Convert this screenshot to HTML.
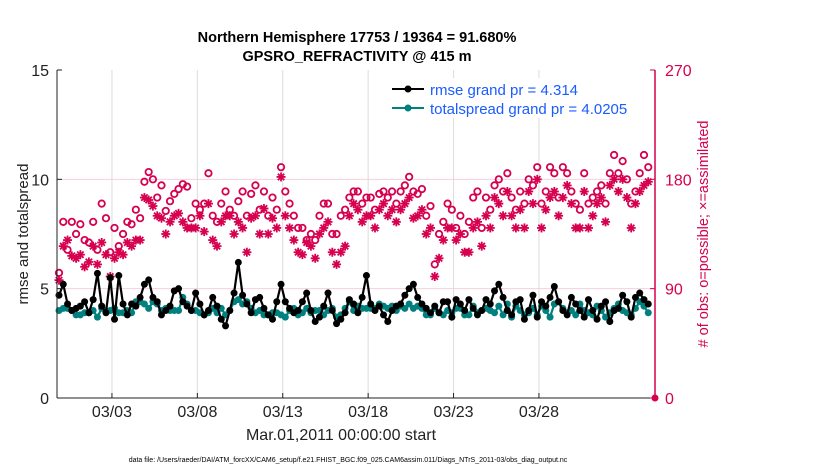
<!DOCTYPE html>
<html><head><meta charset="utf-8"><style>
body{margin:0;background:#fff;font-family:"Liberation Sans",sans-serif}
svg text{font-family:"Liberation Sans",sans-serif}
</style></head><body>
<svg id="c" width="830" height="470" xmlns="http://www.w3.org/2000/svg"></svg>
<script>
const rmse=[4.7,5.2,4.3,4.0,4.1,4.2,4.4,3.9,4.5,5.7, 4.2,3.9,5.5,3.6,5.6,4.3,3.8,4.3,4.2,4.6, 5.2,5.4,4.6,4.4,3.8,4.0,4.2,4.9,5.0,4.4, 4.2,4.0,4.8,4.3,3.8,4.0,4.6,4.2,3.6,3.3, 4.0,4.8,6.2,4.7,4.3,3.9,4.5,4.6,4.1,3.8, 3.6,4.4,5.2,4.4,4.1,3.9,4.0,4.4,4.8,4.0, 3.5,3.7,4.2,4.8,4.0,3.4,3.6,3.9,4.5,4.3, 3.9,4.6,5.6,4.3,4.0,4.2,3.8,3.5,4.0,4.2, 4.3,4.7,5.0,5.2,4.6,4.3,4.1,3.9,4.2,3.9, 4.4,4.4,3.7,4.5,4.3,4.0,4.5,4.1,3.8,4.0, 4.5,4.3,4.9,5.2,4.6,4.0,3.8,4.4,4.5,3.6, 4.0,4.7,3.7,4.4,4.2,4.6,5.1,4.4,4.0,3.8, 4.6,4.3,4.0,3.7,4.5,4.0,3.6,4.2,4.4,3.5, 4.0,4.1,4.7,4.4,3.7,4.6,4.8,4.5,4.3];
const spread=[4.0,4.1,4.1,4.0,3.8,3.8,3.9,3.9,4.0,3.7, 4.1,4.0,4.0,4.1,3.9,3.9,4.0,3.9,4.4,4.4, 4.3,4.1,4.4,4.3,4.0,4.1,4.0,4.0,4.0,4.6, 4.3,4.0,4.0,3.9,3.8,3.9,4.1,3.9,4.1,3.8, 4.0,4.4,4.5,4.3,4.4,4.1,3.9,4.0,3.8,3.8, 3.9,3.9,3.8,3.7,4.0,4.1,3.8,3.9,4.1,3.9, 4.0,4.0,3.8,4.0,4.1,3.7,3.8,4.1,4.4,4.0, 4.2,4.1,4.1,4.1,4.1,4.3,4.2,4.1,4.2,4.0, 4.2,4.1,4.3,4.1,4.2,4.1,3.8,3.8,4.1,3.9, 3.8,4.0,3.9,4.1,4.1,3.8,3.8,4.2,3.9,4.0, 4.1,4.0,3.9,4.2,3.8,4.3,3.7,4.2,4.0,3.8, 3.9,4.1,3.8,4.2,4.0,3.7,4.3,4.4,4.1,3.9, 4.0,3.8,4.3,4.0,3.9,3.8,4.2,4.0,3.7,3.9, 4.1,4.3,4.0,3.9,3.8,4.1,4.4,4.2,3.9];
const nposs=[103,145,122,145,135,143,130,128,145,122, 160,148,120,140,125,135,145,143,155,148, 178,186,180,165,175,154,162,168,172,176, 174,148,160,155,160,185,150,145,160,170, 155,150,162,170,150,168,175,155,170,150, 165,155,190,170,160,150,140,140,130,135, 130,150,160,160,135,135,150,155,165,170, 170,160,165,165,155,168,170,165,170,160, 170,175,182,170,168,172,150,158,110,135, 145,160,155,140,150,135,145,165,170,140, 165,155,175,180,170,185,165,155,170,160, 180,175,190,160,170,190,185,165,190,185, 170,160,155,185,160,165,170,175,160,185, 200,185,195,180,160,170,185,200,190];
const nassim=[97,125,130,117,115,118,108,112,125,110, 128,118,100,115,120,118,128,125,130,130, 165,163,158,150,148,135,145,150,152,145, 140,140,140,150,137,160,130,125,145,150, 150,135,145,140,120,148,150,135,156,135, 148,140,182,150,140,130,120,118,128,125, 115,135,140,145,120,110,120,125,150,160, 155,145,150,150,140,155,160,150,155,145, 155,160,165,148,150,155,135,140,100,115, 130,140,140,130,135,120,120,140,145,125, 150,140,165,160,150,170,150,140,155,140, 170,160,180,140,155,165,170,150,165,175, 160,140,140,170,140,150,160,165,145,175, 180,170,180,165,140,160,170,175,178];
const tickLabels=["03/03","03/08","03/13","03/18","03/23","03/28"];
const tickIdx=[12.4,32.4,52.4,72.4,92.4,112.4];
const leftTicks=[0,5,10,15];
const rightTicks=[0,90,180,270];

const NS="http://www.w3.org/2000/svg",svg=document.getElementById('c');
const L=57,R=655,T=70,B=398,PINK="#d6004f",TEAL="#00807f";
const X=i=>59+i*4.27, Y=v=>B-v*(B-T)/15, Y2=n=>B-n*(B-T)/270;
function el(t,a,p){const e=document.createElementNS(NS,t);for(const k in a)e.setAttribute(k,a[k]);(p||svg).appendChild(e);return e;}
function txt(s,a){const e=el('text',a);e.textContent=s;return e;}
tickIdx.forEach(t=>{const g=el('line',{x1:X(t),x2:X(t),y1:T,y2:B,stroke:'#dcdcdc'});

});
rightTicks.slice(1,3).forEach(v=>{const g=el('line',{x1:L,x2:R,y1:Y2(v),y2:Y2(v),stroke:'#f6d0dd'});

});
const gp=el('g',{});


nposs.forEach((n,i)=>el('circle',{cx:X(i),cy:Y2(n),r:3.2,fill:'none',stroke:PINK,'stroke-width':1.8},gp));
const ga=el('g',{});


nassim.forEach((n,i)=>{const x=X(i),y=Y2(n);
[[0,-4.5,0,4.5],[-4.5,0,4.5,0],[-3.2,-3.2,3.2,3.2],[-3.2,3.2,3.2,-3.2]].forEach(d=>el('line',{x1:x+d[0],y1:y+d[1],x2:x+d[2],y2:y+d[3],stroke:PINK,'stroke-width':1.8},ga));});
el('circle',{cx:R,cy:B,r:3.5,fill:PINK});
function series(arr,col,name){const g=el('g',{});


el('polyline',{points:arr.map((v,i)=>X(i)+','+Y(v)).join(' '),fill:'none',stroke:col,'stroke-width':2.2},g);
arr.forEach((v,i)=>el('circle',{cx:X(i),cy:Y(v),r:3.5,fill:col},g));}
series(spread,TEAL,'totalspread-line');
series(rmse,'#000','rmse-line');
el('line',{x1:L,x2:L,y1:T,y2:B,stroke:'#222'});
el('line',{x1:L,x2:R,y1:B,y2:B,stroke:'#222'});
el('line',{x1:R,x2:R,y1:T,y2:B,stroke:PINK,'stroke-width':1.5});
leftTicks.forEach(v=>{el('line',{x1:L,x2:L+5,y1:Y(v),y2:Y(v),stroke:'#222'});
const t=txt(v,{x:L-8,y:Y(v)+6,'text-anchor':'end','font-size':16,fill:'#222'});

});
rightTicks.forEach(v=>{el('line',{x1:R-5,x2:R,y1:Y2(v),y2:Y2(v),stroke:PINK});
const t=txt(v,{x:R+10,y:Y2(v)+6,'font-size':16,fill:PINK});

});
tickIdx.forEach((t,k)=>{el('line',{x1:X(t),x2:X(t),y1:B,y2:B-5,stroke:'#222'});
const e=txt(tickLabels[k],{x:X(t),y:417,'text-anchor':'middle','font-size':16,fill:'#222'});

});
</script>
<svg width="830" height="470" style="position:absolute;left:0;top:0" xmlns="http://www.w3.org/2000/svg">
<text x="357" y="42" text-anchor="middle" font-size="14.5" font-weight="bold" fill="#000">Northern Hemisphere 17753 / 19364 = 91.680%</text>
<text x="357" y="61" text-anchor="middle" font-size="14.5" font-weight="bold" fill="#000">GPSRO_REFRACTIVITY @ 415 m</text>
<text transform="translate(28,234) rotate(-90)" text-anchor="middle" font-size="15" fill="#222">rmse and totalspread</text>
<text transform="translate(708,234) rotate(-90)" text-anchor="middle" font-size="14.5" fill="#d6004f"># of obs: o=possible; ×=assimilated</text>
<text x="341" y="440" text-anchor="middle" font-size="16" fill="#222">Mar.01,2011 00:00:00 start</text>
<text x="348" y="462" text-anchor="middle" font-size="7" fill="#000">data file: /Users/raeder/DAI/ATM_forcXX/CAM6_setup/f.e21.FHIST_BGC.f09_025.CAM6assim.011/Diags_NTrS_2011-03/obs_diag_output.nc</text>
<g>
<rect x="386" y="78" width="262" height="40" fill="#fff"/>
<line x1="392" x2="424" y1="89" y2="89" stroke="#000" stroke-width="2"/><circle cx="408" cy="89" r="3.5" fill="#000"/>
<text x="430" y="95" font-size="15" fill="#1a5cff">rmse grand pr = 4.314</text>
<line x1="392" x2="424" y1="108" y2="108" stroke="#00807f" stroke-width="2"/><circle cx="408" cy="108" r="3.5" fill="#00807f"/>
<text x="430" y="114" font-size="15" fill="#1a5cff">totalspread grand pr = 4.0205</text>
</g>
</svg>
</body></html>
